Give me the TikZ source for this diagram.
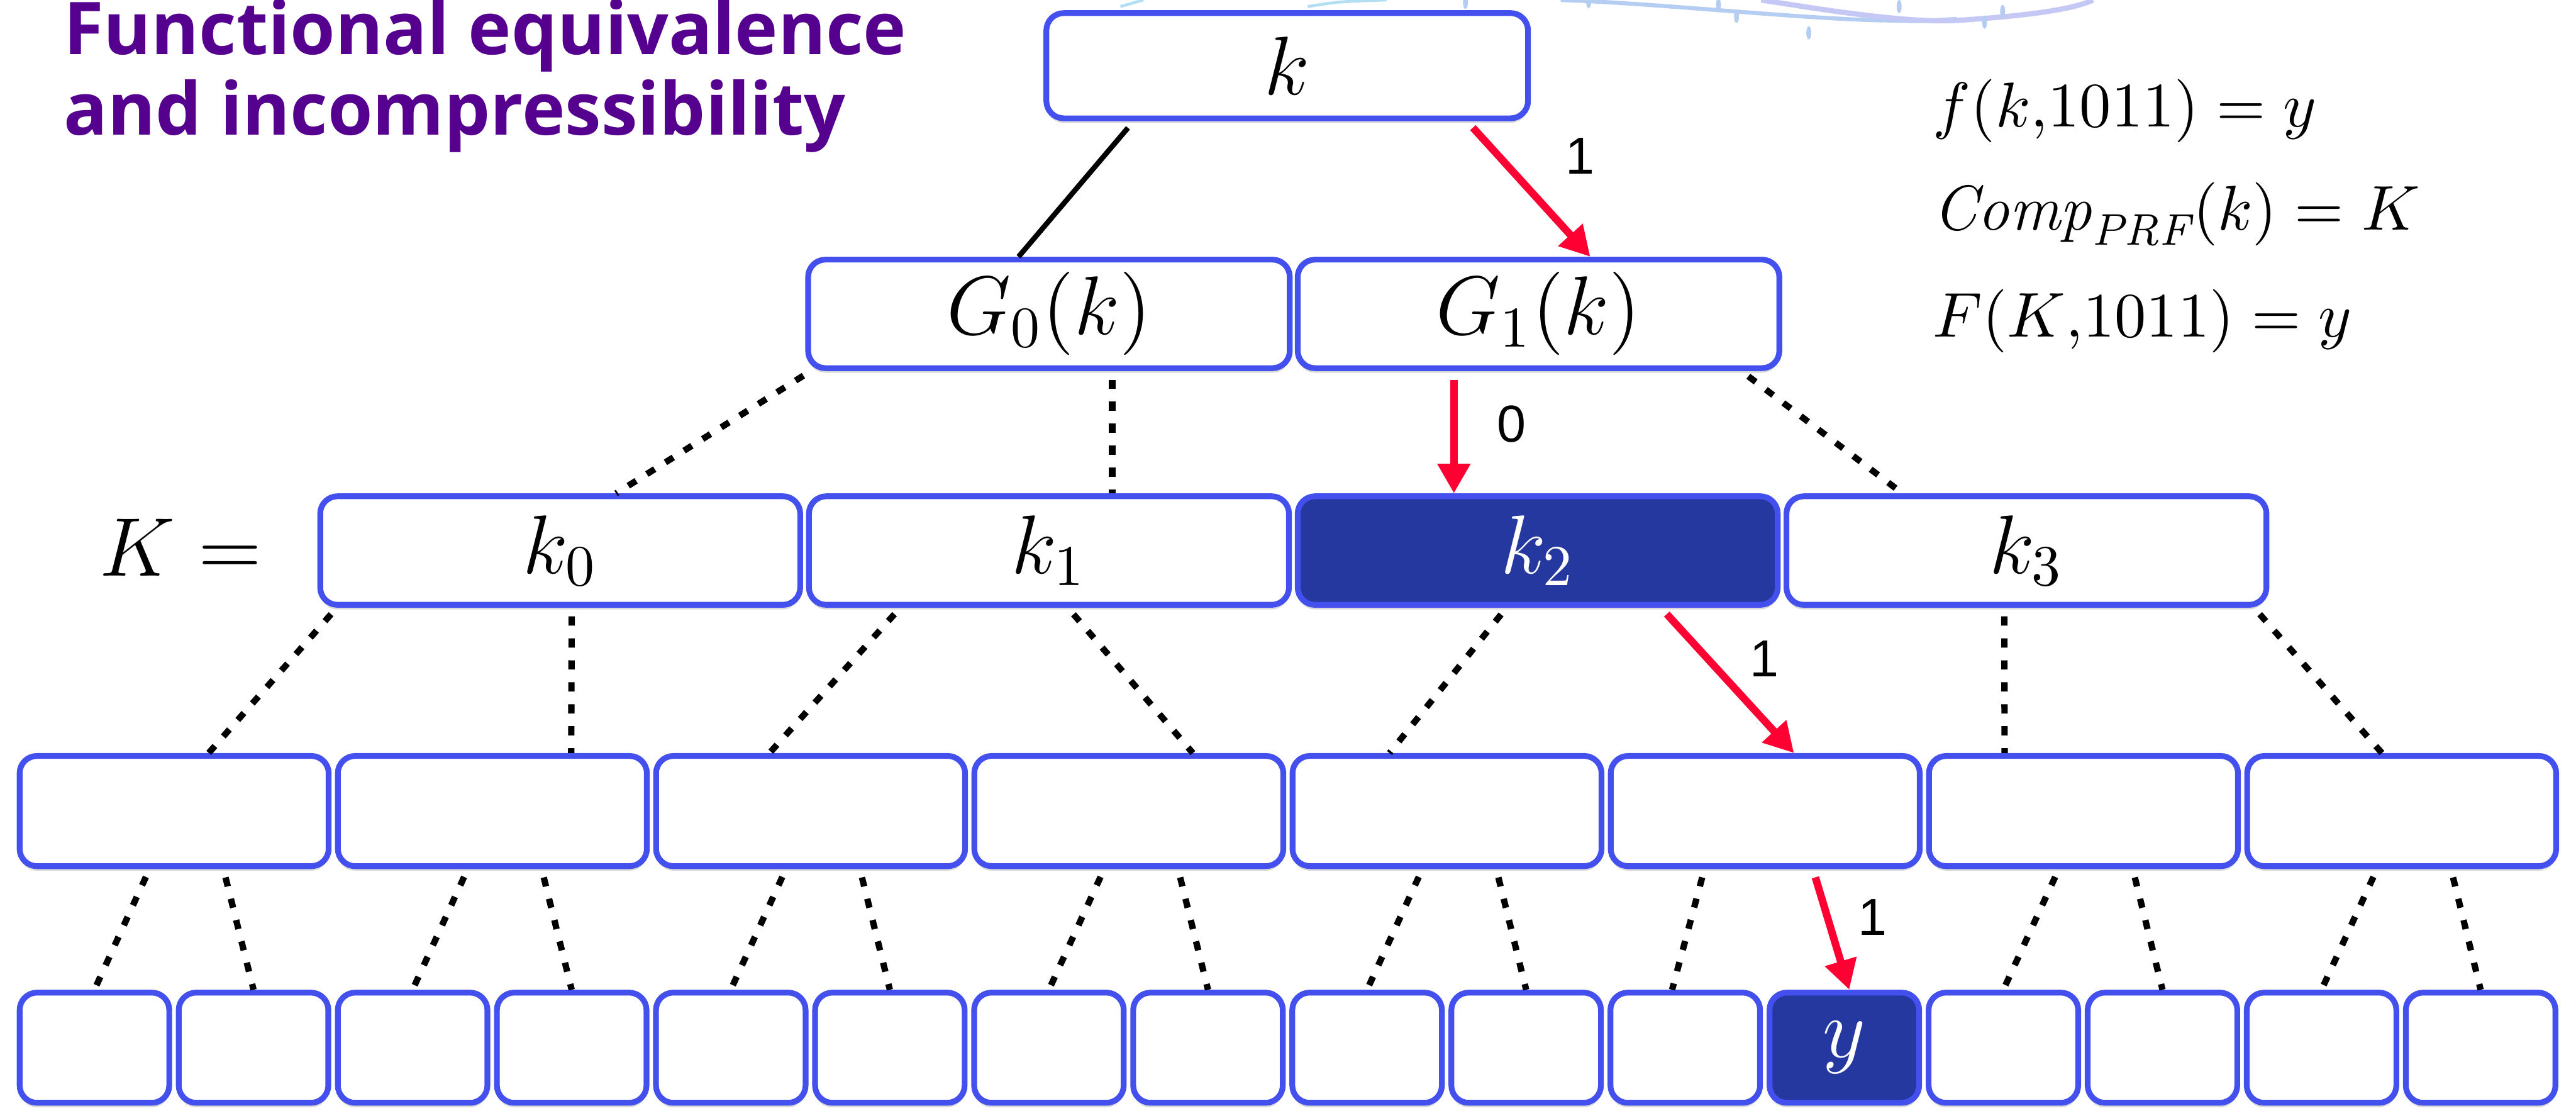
\documentclass[tikz,border=0pt]{standalone}
\usepackage{fontspec}
\newfontfamily\titlefont{Open Sans}
\newfontfamily\labelfont{Liberation Sans}
\usetikzlibrary{arrows.meta, positioning, calc, shadows}
\definecolor{mblue}{HTML}{4450EE}
\definecolor{mdark}{HTML}{2438A0}
\definecolor{mred}{HTML}{FF0033}
\definecolor{mpurple}{HTML}{56008F}
\definecolor{mswirl}{HTML}{B5CDF2}
\definecolor{mlav}{HTML}{C5C8F5}
\definecolor{mcyan}{HTML}{B2E0F2}
\tikzset{
  cell/.style={draw=mblue, fill=white, line width=1pt, rounded corners=3pt,
               minimum height=0.66cm, inner sep=0pt, font=\fontsize{14.5}{17}\selectfont,
               drop shadow={shadow xshift=0pt, shadow yshift=-0.8pt, fill=black, opacity=0.15}},
  hcell/.style={cell, fill=mdark, text=white},
  dline/.style={dash pattern=on 1.6pt off 2.2pt, line width=1.1pt, shorten <=1.5pt},
  sline/.style={line width=0.9pt, shorten <=1.5pt},
  pline/.style={-{Triangle[length=1.8mm, width=1.9mm]}, mred, line width=1.3pt, shorten <=1.5pt},
  bitlbl/.style={font=\labelfont\fontsize{9}{11}\selectfont, inner sep=0pt},
  eqn/.style={font=\fontsize{11}{13}\selectfont, inner sep=0pt},
  title/.style={font=\titlefont\bfseries\fontsize{12.6}{15}\selectfont, text=mpurple, inner sep=0pt},
}
\begin{document}
\begin{tikzpicture}[x=0.01cm, y=-0.01cm]
  \useasboundingbox[fill=white] (0,0) rectangle (1568,680);
  % faint background swirl
  \draw[mcyan, line width=0.5pt] (682,4) -- (696,0);
  \draw[mcyan, line width=0.5pt] (796,4) .. controls (815,1) .. (844,0);
  \draw[mswirl, line width=0.7pt] (950,0) .. controls (1010,2) and (1100,12) .. (1151,12.5)
    .. controls (1170,13) .. (1191,11.5);
  \draw[mlav, line width=0.9pt] (1072,0) .. controls (1110,6) and (1160,14) .. (1190,12.5)
    .. controls (1230,10) and (1262,6) .. (1274,0);
  \foreach \p/\q in {892/1.5, 967/1, 1046/3, 1057/10, 1101/20, 1156/4, 1208/13.5, 1219/7}
    \fill[mswirl] (\p,\q) ellipse (1.5 and 4);

  % title
  \node[title, anchor=base west] (t1) at (38,33) {Functional equivalence};
  \node[title, anchor=base west] (t2) at (38,82) {and incompressibility};

  % tree
  \node[cell, minimum width=2.93cm, minimum height=0.64cm] (k) at (783.5,40) {$k$};
  \node[cell, minimum width=2.93cm] (g0) at (638.5,191) {$G_0(k)$};
  \node[cell, minimum width=2.93cm] (g1) at (936.5,191) {$G_1(k)$};
  \foreach \i in {0,1,3}
    \node[cell, minimum width=2.92cm] (k\i) at ({341+297.5*\i},335) {$k_\i$};
  \node[hcell, minimum width=2.92cm] (k2) at (936,335) {$k_2$};
  \foreach \i in {1,...,8}
    \node[cell, minimum width=1.88cm, minimum height=0.67cm] (m\i) at ({106+193.7*(\i-1)},493.5) {};
  \foreach \i in {1,...,11,13,14,15,16}
    \node[cell, minimum width=0.91cm, minimum height=0.67cm] (l\i) at ({57.5+96.83*(\i-1)},637.5) {};
  \node[hcell, minimum width=0.91cm, minimum height=0.67cm] (l12) at ({57.5+96.83*11},637.5) {$y$};

  \node[font=\fontsize{14.5}{17}\selectfont, inner sep=0pt] (keq) at (110,333) {$K =$};

  % edges
  \draw[sline] ($(k.south)+(-93.5,0)$) -- ($(g0.north)+(-18.5,0)$);
  \draw[pline] ($(k.south)+(109.5,0)$) -- ($(g1.north)+(31.5,0)$);
  \draw[dline] ($(g0.south)+(-145,0)$) -- ($(k0.north)+(34,0)$);
  \draw[dline] ($(g0.south)+(38.5,0)$) -- ($(k1.north)+(38.5,0)$);
  \draw[pline] ($(g1.south)+(-51.5,0)$) -- ($(k2.north)+(-51,0)$);
  \draw[dline] ($(g1.south)+(123.5,0)$) -- ($(k3.north)+(-75.5,0)$);

  \draw[dline] ($(k0.south)+(-136,0)$) -- ($(m1.north)+(21,0)$);
  \draw[dline] ($(k0.south)+(7,0)$) -- ($(m2.north)+(48,0)$);
  \draw[dline] ($(k1.south)+(-90.5,0)$) -- ($(m3.north)+(-25,0)$);
  \draw[dline] ($(k1.south)+(11.5,0)$) -- ($(m4.north)+(39,0)$);
  \draw[dline] ($(k2.south)+(-19,0)$) -- ($(m5.north)+(-35,0)$);
  \draw[pline] ($(k2.south)+(75,0)$) -- ($(m6.north)+(17.5,0)$);
  \draw[dline] ($(k3.south)+(-13.5,0)$) -- ($(m7.north)+(-48,0)$);
  \draw[dline] ($(k3.south)+(138.5,0)$) -- ($(m8.north)+(-12,0)$);

  \foreach \i [evaluate=\i as \lc using int(2*\i-1), evaluate=\i as \rc using int(2*\i)] in {1,2,3,4,5,7,8} {
    \draw[dline] ($(m\i.south)+(-15,0)$) -- (l\lc.north);
    \draw[dline] ($(m\i.south)+(30,0)$) -- (l\rc.north);
  }
  \draw[dline] ($(m6.south)+(-37,0)$) -- ($(l11.north)+(-8,0)$);
  \draw[pline] ($(m6.south)+(29,0)$) -- ($(l12.north)+(3,0)$);

  % bit labels
  \node[bitlbl] (b0) at (962,95) {1};
  \node[bitlbl] (b1) at (920,258) {0};
  \node[bitlbl] (b2) at (1074,401) {1};
  \node[bitlbl] (b3) at (1140,558) {1};

  % equations
  \node[eqn, anchor=base west] (e1) at (1176,77) {$f(k{,}1011) = y$};
  \node[eqn, anchor=base west] (e2) at (1176,140) {$\mathit{Comp}_{\mathit{PRF}}(k) = K$};
  \node[eqn, anchor=base west] (e3) at (1176,205) {$F(K{,}1011) = y$};
\end{tikzpicture}
\end{document}
